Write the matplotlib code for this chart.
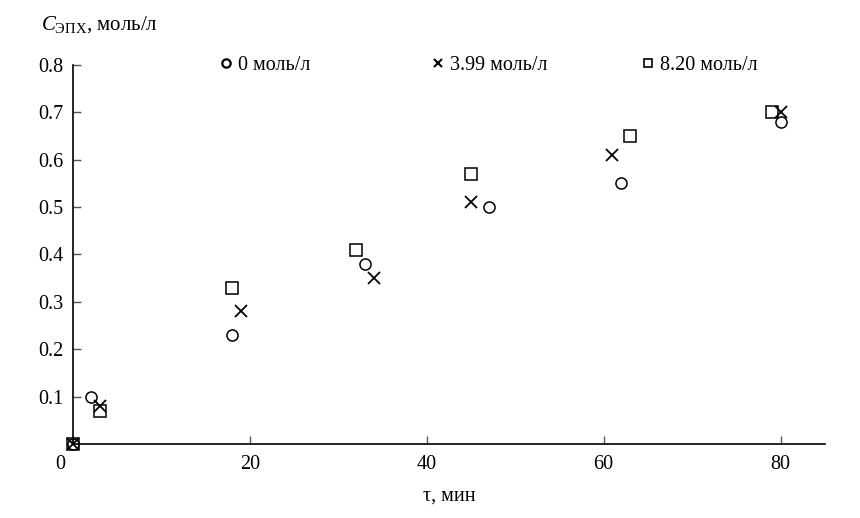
"""Epichlorohydrin concentration vs time, three salt levels."""

import matplotlib
matplotlib.use("Agg")
import matplotlib.pyplot as plt
import matplotlib.transforms as mtransforms
from matplotlib.legend import Legend
from matplotlib.lines import Line2D

plt.rcParams["font.family"] = ["Liberation Serif", "DejaVu Serif"]
plt.rcParams["mathtext.fontset"] = "custom"
plt.rcParams["mathtext.rm"] = "Liberation Serif"
plt.rcParams["mathtext.it"] = "Liberation Serif:italic"

# time, min
t_0 = [0, 2, 18, 33, 47, 62, 80]
t_399 = [0, 3, 19, 34, 45, 61, 80]
t_820 = [0, 3, 18, 32, 45, 63, 79]

# concentration, mol/l
c_0 = [0, 0.10, 0.23, 0.38, 0.50, 0.55, 0.68]
c_399 = [0, 0.08, 0.28, 0.35, 0.51, 0.61, 0.70]
c_820 = [0, 0.07, 0.33, 0.41, 0.57, 0.65, 0.70]

labels = ["0 моль/л", "3.99 моль/л", "8.20 моль/л"]
x_ticks = [0, 20, 40, 60, 80]
y_ticks = [0.1, 0.2, 0.3, 0.4, 0.5, 0.6, 0.7, 0.8]

fig = plt.figure(figsize=(8.6, 5.18), dpi=100)
ax = fig.add_axes([0.0849, 0.1429, 0.959 - 0.0849, 0.8745 - 0.1429])

ax.plot(t_0, c_0, linestyle="none", marker="o", markersize=8,
        markerfacecolor="none", markeredgecolor="black", markeredgewidth=1.1,
        clip_on=False)
ax.plot(t_399, c_399, linestyle="none", marker="x", markersize=8,
        color="black", markeredgewidth=1.3, clip_on=False)
ax.plot(t_820, c_820, linestyle="none", marker="s", markersize=8,
        markerfacecolor="none", markeredgecolor="black", markeredgewidth=1.1,
        clip_on=False)

ax.set_xlim(0, 85)
ax.set_ylim(0, 0.8)
ax.set_xticks(x_ticks)
ax.set_yticks(y_ticks)
ax.set_yticklabels([f"{v:.1f}" for v in y_ticks])

for side in ("top", "right"):
    ax.spines[side].set_visible(False)
for side in ("left", "bottom"):
    ax.spines[side].set_linewidth(1.2)

ax.tick_params(direction="in", length=6, width=1, color="#555555",
               labelsize=14.5)
ax.tick_params(axis="y", pad=7)
ax.tick_params(axis="x", pad=8)

# the "0" at the corner sits to the left of the axis
zero_lbl = ax.get_xticklabels()[0]
zero_lbl.set_transform(zero_lbl.get_transform() +
                       mtransforms.ScaledTranslation(-13 / 100, 0, fig.dpi_scale_trans))

fig.text(0.048, 0.952, r"$C_{\mathrm{ЭПХ}}$, моль/л", fontsize=15,
         ha="left", va="center")
ax.set_xlabel("τ, мин", fontsize=14.5, labelpad=9)

# legend entries spread along the top row
handles = [
    Line2D([], [], linestyle="none", marker="o", markersize=6,
           markerfacecolor="none", markeredgecolor="black", markeredgewidth=1.6),
    Line2D([], [], linestyle="none", marker="x", markersize=6,
           color="black", markeredgewidth=1.5),
    Line2D([], [], linestyle="none", marker="s", markersize=6,
           markerfacecolor="none", markeredgecolor="black", markeredgewidth=1.2),
]
anchors = [0.195, 0.477, 0.757]
for h, lab, xa in zip(handles, labels, anchors):
    leg = Legend(ax, [h], [lab], loc="center left",
                 bbox_to_anchor=(xa, 1.0), frameon=False, fontsize=14.5,
                 handlelength=0.6, handletextpad=0.3, borderpad=0,
                 borderaxespad=0)
    ax.add_artist(leg)

fig.savefig("out.png", dpi=100)
